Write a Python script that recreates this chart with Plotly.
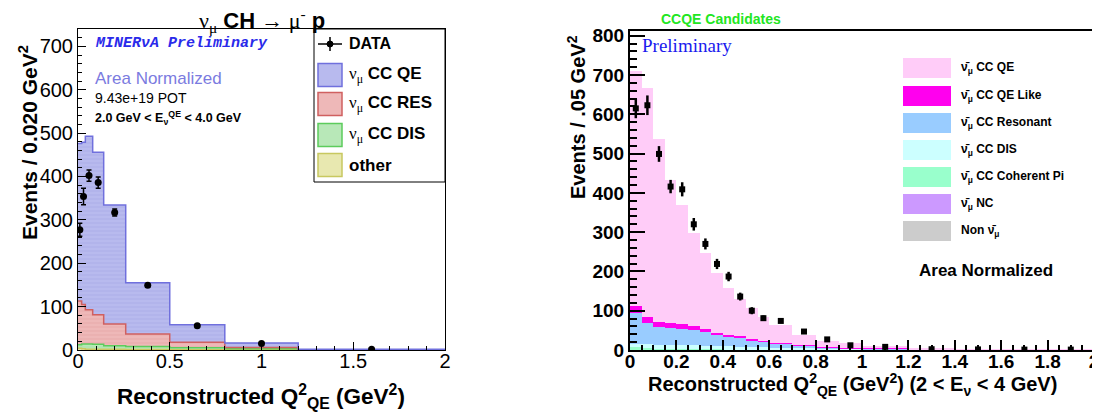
import plotly.graph_objects as go
import numpy as np

# page body adds an 8px margin, so the figure is 1092x409 placed at (8, 8)
OFF = 8
W, H = 1100 - OFF, 417 - OFF

# ---------------- Left panel data (nu_mu CH -> mu- p) ----------------
L_edges = [0, 0.02, 0.04, 0.08, 0.14, 0.26, 0.5, 0.8, 1.2, 2.0]
L_other = [4, 3, 2, 2, 1.5, 1, 0.5, 0.3, 0.2]
L_dis = [8, 11, 12, 11, 8.5, 7, 4.5, 2.7, 0.3]
L_res = [101, 91, 79, 68, 50, 29, 13, 3, 0.3]
L_qe = [363, 374, 400, 375, 274, 118, 40, 10, 0.7]
L_data_y = [277, 354, 402, 386, 317, 149, 56, 15, 2]
L_data_err = [15, 19, 13, 13, 8, 4, 3, 2, 1]

L_names = ["other", "ν<sub>μ</sub> CC DIS", "ν<sub>μ</sub> CC RES", "ν<sub>μ</sub> CC QE"]
L_fill = ["#e8e8b0", "#b8e8b8", "#eeb8b8", "#b8baee"]
L_hatch = ["#d4d47a", "#94d894", "#de9494", "#9a9ce2"]
L_line = ["#c8c860", "#5ccc5c", "#d06060", "#7070dd"]

# ---------------- Right panel data (CCQE candidates) ----------------
R_edges = [0, 0.05, 0.1, 0.15, 0.2, 0.25, 0.3, 0.35, 0.4, 0.45, 0.5, 0.55, 0.6,
           0.7, 0.8, 0.9, 1.0, 1.2, 1.4, 1.6, 1.8, 2.0]
R_non = [0] * 21
R_nc = [0] * 21
R_coh = [8, 4, 3, 2, 2, 2, 1.5, 1.5, 1, 1, 1, 1, 1, 0.8, 0.5, 0.4, 0.3, 0.2, 0.1, 0.1, 0.05]
R_dis = [8, 11, 11, 12, 11, 10, 9.5, 8.5, 8, 7, 6, 6, 5, 4.2, 3.5, 2.6, 1.7, 0.8, 0.4, 0.2, 0.15]
R_res = [77, 55, 44, 41, 41, 39, 35, 29, 25, 23, 18, 14, 11, 7, 3, 2, 1, 0.5, 0.3, 0.2, 0.1]
R_qelike = [19, 15, 14, 13, 12, 10, 7, 5, 4, 5, 4, 3, 2, 1, 1, 1, 1, 0.5, 0.2, 0.1, 0.1]
R_qe = [599, 583, 464, 365, 303, 238, 195, 153, 119, 93, 77, 61, 45, 25, 16, 11, 6, 2, 1, 0.6, 0.4]
R_data_y = [615, 623, 499, 416, 409, 320, 270, 219, 187, 136, 100, 81, 74, 47, 27, 12, 8, 2, 1.5, 1, 1]
R_data_err = [25, 25, 20, 17, 18, 16, 14, 13, 12, 10, 9, 7, 5, 4, 3, 2, 2, 1, 1, 1, 1]

NUBAR = "\u03bd\u0304"
R_names = [NUBAR + "<sub>μ</sub> CC QE", NUBAR + "<sub>μ</sub> CC QE Like",
           NUBAR + "<sub>μ</sub> CC Resonant", NUBAR + "<sub>μ</sub> CC DIS",
           NUBAR + "<sub>μ</sub> CC Coherent Pi", NUBAR + "<sub>μ</sub> NC",
           "Non " + NUBAR + "<sub>μ</sub>"]
R_colors = ["#ffccf8", "#ff00ee", "#99ccff", "#ccffff", "#99ffcc", "#cc99ff", "#cccccc"]

SANS = "Liberation Sans"
SERIF = "Liberation Serif"

fig = go.Figure()

# ---- left stacked histogram ----
Le = np.array(L_edges)
Lc = (Le[:-1] + Le[1:]) / 2
Lw = np.diff(Le)
L_comps = [L_other, L_dis, L_res, L_qe]
for comp, fc, hc in zip(L_comps, L_fill, L_hatch):
    fig.add_trace(go.Bar(x=Lc, y=comp, width=Lw, xaxis="x", yaxis="y",
                         marker=dict(color=fc, line=dict(width=0),
                                     pattern=dict(shape="-", fgcolor=hc, size=4, solidity=0.2)),
                         showlegend=False, hoverinfo="skip"))
cum = np.zeros(len(Lc))
for comp, lc in zip(L_comps, L_line):
    cum = cum + np.array(comp)
    fig.add_trace(go.Scatter(x=Le, y=np.append(cum, cum[-1]), mode="lines",
                             line=dict(color=lc, width=1.5, shape="hv"),
                             xaxis="x", yaxis="y", showlegend=False, hoverinfo="skip"))
fig.add_trace(go.Scatter(x=Lc, y=L_data_y, mode="markers", xaxis="x", yaxis="y",
                         marker=dict(color="black", size=7, symbol="circle"),
                         error_y=dict(type="data", array=L_data_err, color="black",
                                      thickness=1.5, width=2.5),
                         showlegend=False))

# ---- right stacked histogram ----
Re = np.array(R_edges)
Rc = (Re[:-1] + Re[1:]) / 2
Rw = np.diff(Re)
R_comps = [R_qe, R_qelike, R_res, R_dis, R_coh, R_nc, R_non]
for comp, col in reversed(list(zip(R_comps, R_colors))):
    fig.add_trace(go.Bar(x=Rc, y=comp, width=Rw, xaxis="x2", yaxis="y2",
                         marker=dict(color=col, line=dict(width=0)),
                         showlegend=False, hoverinfo="skip"))
fig.add_trace(go.Scatter(x=Rc, y=R_data_y, mode="markers", xaxis="x2", yaxis="y2",
                         marker=dict(color="black", size=6, symbol="square"),
                         error_y=dict(type="data", array=R_data_err, color="black",
                                      thickness=2.5, width=0),
                         showlegend=False))


def px(x):
    return (x - OFF) / W


def py(y):
    return 1 - (y - OFF) / H


axis_common = dict(showgrid=False, zeroline=False, showline=True, mirror=True, automargin=False,
                   linecolor="black", ticks="inside", tickcolor="black")

fig.update_layout(
    width=W, height=H, autosize=False,
    margin=dict(l=0, r=0, t=0, b=0, autoexpand=False),
    paper_bgcolor="white", plot_bgcolor="white",
    barmode="stack", bargap=0,
    xaxis=dict(domain=[px(78), px(445)], range=[0, 2], dtick=0.5, tick0=0,
               anchor="y", linewidth=1, ticklen=8, tickwidth=1, ticklabelstandoff=-7,
               minor=dict(ticks="inside", dtick=0.1, ticklen=4, tickcolor="black", showgrid=False),
               tickfont=dict(family=SANS, size=20, color="black"), **axis_common),
    yaxis=dict(domain=[py(350), py(29)], range=[0, 740], dtick=100, tick0=0,
               anchor="x", linewidth=1, ticklen=8, tickwidth=1,
               minor=dict(ticks="inside", dtick=20, ticklen=4, tickcolor="black", showgrid=False),
               tickfont=dict(family=SANS, size=20, color="black"), **axis_common),
    xaxis2=dict(domain=[px(630), px(1094)], range=[0, 2], dtick=0.2, tick0=0,
                anchor="y2", linewidth=2, ticklen=10, tickwidth=2, ticklabelstandoff=-7,
                minor=dict(ticks="inside", dtick=0.05, ticklen=5, tickwidth=1.5, tickcolor="black", showgrid=False),
                tickfont=dict(family=SANS, size=19, color="black", weight="bold"), **axis_common),
    yaxis2=dict(domain=[py(350), py(31)], range=[0, 812], dtick=100, tick0=0,
                anchor="x2", linewidth=2, ticklen=15, tickwidth=2,
                minor=dict(ticks="inside", dtick=20, ticklen=7, tickwidth=1.5, tickcolor="black", showgrid=False),
                tickfont=dict(family=SANS, size=19, color="black", weight="bold"), **axis_common),
)

ann = []


def text(x, y, s, size, color="black", family=SANS, xanchor="left", yanchor="middle", angle=0):
    ann.append(dict(x=px(x), y=py(y), xref="paper", yref="paper", text=s, showarrow=False,
                    xanchor=xanchor, yanchor=yanchor, textangle=angle,
                    font=dict(family=family, size=size, color=color)))


# Left panel texts
text(262, 20, '<span style="font-family:Liberation Serif">ν<sub>μ</sub></span><b> CH </b>→'
     '<span style="font-family:Liberation Serif"> μ<sup>-</sup></span><b> p</b>', 22, xanchor="center")
text(28, 143, "<b>Events / 0.020 GeV<sup>2</sup></b>", 21, xanchor="center", angle=-90)
text(261, 396, "<b>Reconstructed Q<sup>2</sup><sub>QE</sub> (GeV<sup>2</sup>)</b>", 22.5, xanchor="center")
text(93, 44, "<b><i>MINERνA Preliminary</i></b>", 15, color="#2a2aea", family="Liberation Mono")
text(93, 78, "Area Normalized", 17, color="#7b7be0")
text(93, 98, "9.43e+19 POT", 14)
text(93, 118, "<b>2.0 GeV &lt; E<sub>ν</sub><sup>QE</sup> &lt; 4.0 GeV</b>", 12.5)

shapes = []
# Left legend
shapes.append(dict(type="rect", xref="paper", yref="paper", x0=px(314), x1=px(445),
                   y0=py(182), y1=py(29), line=dict(color="black", width=1), fillcolor="white", layer="above"))
shapes.append(dict(type="line", xref="paper", yref="paper", x0=px(318), x1=px(342), y0=py(44), y1=py(44),
                   line=dict(color="black", width=1.5), layer="above"))
shapes.append(dict(type="line", xref="paper", yref="paper", x0=px(330), x1=px(330), y0=py(37), y1=py(51),
                   line=dict(color="black", width=1.5), layer="above"))
shapes.append(dict(type="circle", xref="paper", yref="paper", x0=px(327), x1=px(333), y0=py(47), y1=py(41),
                   line=dict(color="black", width=1), fillcolor="black", layer="above"))
text(347, 44, "<b>DATA</b>", 16)
leg_y = [75, 104, 135, 165]
for i, yy in enumerate(leg_y):
    k = 3 - i
    shapes.append(dict(type="rect", xref="paper", yref="paper", x0=px(318), x1=px(342),
                       y0=py(yy + 11.5), y1=py(yy - 11.5), line=dict(color=L_line[k], width=1.5),
                       fillcolor=L_fill[k], layer="above"))
    nm = L_names[k]
    if nm.startswith("ν"):
        lab = '<span style="font-family:Liberation Serif">ν<sub>μ</sub></span><b>' + nm.split("</sub>")[1] + "</b>"
    else:
        lab = "<b>" + nm + "</b>"
    text(347, yy, lab, 17)

# Right panel texts
text(659, 19, "<b>CCQE Candidates</b>", 14, color="#22e622")
text(640, 45, "Preliminary", 19, color="#1a1aee", family=SERIF)
text(577, 117, "<b>Events / .05 GeV<sup>2</sup></b>", 20, xanchor="center", angle=-90)
text(852, 384, "<b>Reconstructed Q<sup>2</sup><sub>QE</sub> (GeV<sup>2</sup>) (2 &lt; E<sub>ν</sub> &lt; 4 GeV)</b>",
     20, xanchor="center")
text(986, 270, "<b>Area Normalized</b>", 17, xanchor="center")
r_leg_y = [68, 96, 123, 150, 177, 204, 231]
for nm, col, yy in zip(R_names, R_colors, r_leg_y):
    shapes.append(dict(type="rect", xref="paper", yref="paper", x0=px(903), x1=px(951),
                       y0=py(yy + 10), y1=py(yy - 10), line=dict(width=0), fillcolor=col, layer="above"))
    text(959, yy, "<b>" + nm + "</b>", 12)

fig.update_layout(annotations=ann, shapes=shapes)
fig.write_html("out.html")
